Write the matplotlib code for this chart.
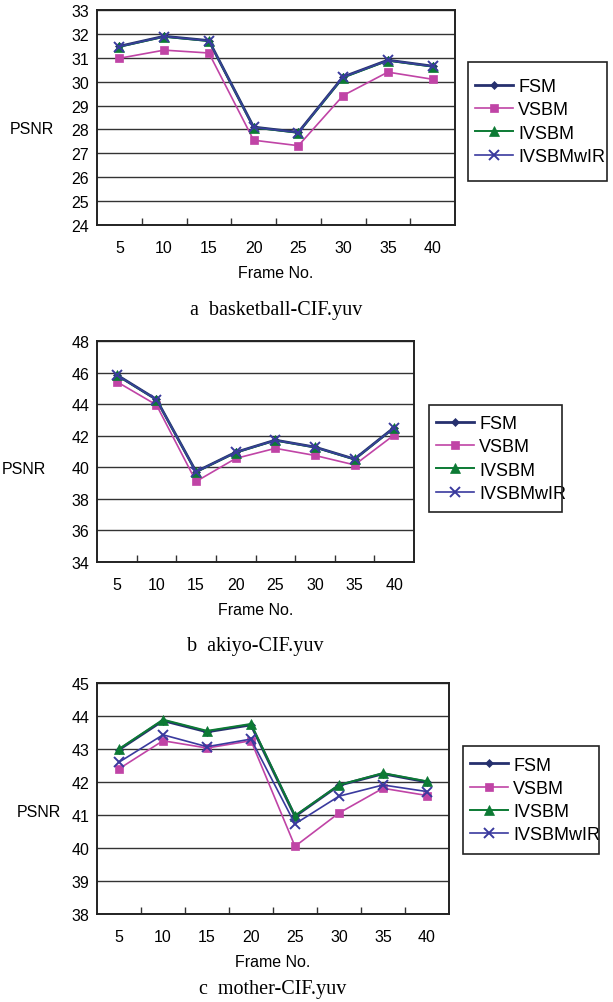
import numpy as np
import matplotlib.pyplot as plt
from matplotlib.patches import Rectangle

plt.rcParams["font.family"] = ["Liberation Sans", "DejaVu Sans"]

frames = [5, 10, 15, 20, 25, 30, 35, 40]
names = ["FSM", "VSBM", "IVSBM", "IVSBMwIR"]

# panel a: basketball
a_fsm = [31.48, 31.9, 31.72, 28.1, 27.88, 30.2, 30.9, 30.65]
a_vsbm = [30.98, 31.32, 31.2, 27.55, 27.32, 29.42, 30.4, 30.1]
a_ivsbm = [31.46, 31.88, 31.7, 28.08, 27.86, 30.17, 30.88, 30.63]
a_wir = [31.47, 31.89, 31.71, 28.09, 27.87, 30.19, 30.89, 30.64]

# panel b: akiyo
b_fsm = [45.85, 44.3, 39.72, 40.95, 41.72, 41.28, 40.52, 42.52]
b_vsbm = [45.42, 43.95, 39.1, 40.56, 41.2, 40.75, 40.15, 42.05]
b_ivsbm = [45.83, 44.28, 39.7, 40.93, 41.7, 41.26, 40.5, 42.5]
b_wir = [45.84, 44.29, 39.71, 40.94, 41.71, 41.27, 40.51, 42.51]

# panel c: mother
c_fsm = [42.98, 43.86, 43.52, 43.73, 40.96, 41.9, 42.25, 42.0]
c_vsbm = [42.4, 43.25, 43.03, 43.25, 40.05, 41.06, 41.81, 41.59]
c_ivsbm = [43.0, 43.89, 43.55, 43.76, 40.98, 41.91, 42.27, 42.02]
c_wir = [42.6, 43.43, 43.07, 43.3, 40.73, 41.57, 41.91, 41.71]

colors = ["#26306e", "#c044a6", "#0c7a34", "#3a3a9e"]
markers = ["D", "s", "^", "x"]
msizes = [4.5, 5.5, 6.5, 6.5]
lwidths = [2.0, 1.2, 1.4, 1.2]

W, H = 613, 1003
fig = plt.figure(figsize=(W / 100, H / 100), dpi=100)


def px_axes(x0, y0, x1, y1):
    return fig.add_axes([x0 / W, 1 - y1 / H, (x1 - x0) / W, (y1 - y0) / H])


panels = [
    dict(box=(97, 11, 455, 226), data=[a_fsm, a_vsbm, a_ivsbm, a_wir],
         ylim=(24, 33), step=1, leg=(468, 63, 607, 182),
         ylab=(32, 130), cap="a  basketball-CIF.yuv", capy=310),
    dict(box=(97, 342, 414, 563), data=[b_fsm, b_vsbm, b_ivsbm, b_wir],
         ylim=(34, 48), step=2, leg=(429, 406, 562, 513),
         ylab=(24, 470), cap="b  akiyo-CIF.yuv", capy=647),
    dict(box=(97, 684, 449, 915), data=[c_fsm, c_vsbm, c_ivsbm, c_wir],
         ylim=(38, 45), step=1, leg=(463, 747, 599, 855),
         ylab=(39, 813), cap="c  mother-CIF.yuv", capy=990),
]

xs = np.arange(len(frames))
for p in panels:
    x0, y0, x1, y1 = p["box"]
    ax = px_axes(x0, y0, x1, y1)
    for vals, nm, c, m, ms, lw in zip(p["data"], names, colors, markers, msizes, lwidths):
        ax.plot(xs, vals, color=c, marker=m, markersize=ms, linewidth=lw,
                markeredgewidth=1.4 if m == "x" else 0.5, label=nm)
    lo, hi = p["ylim"]
    ax.set_ylim(lo, hi)
    ax.set_xlim(-0.5, len(frames) - 0.5)
    ax.set_yticks(np.arange(lo, hi + 0.1, p["step"]))
    ax.yaxis.grid(True, color="#333333", linewidth=1.0)
    ax.set_axisbelow(True)
    ax.tick_params(axis="y", length=0, labelsize=11.5, pad=5.5)
    ax.set_xticks(xs)
    ax.set_xticklabels([str(f) for f in frames])
    ax.set_xticks(xs[:-1] + 0.5, minor=True)
    ax.tick_params(axis="x", which="major", length=0, labelsize=11.5, pad=11)
    ax.tick_params(axis="x", which="minor", direction="in", length=5, width=1, color="#333333")
    for s in ax.spines.values():
        s.set_linewidth(1.4)
        s.set_color("#222222")
    ax.set_xlabel("Frame No.", fontsize=11.5, labelpad=7)
    lx, ly = p["ylab"]
    fig.text(lx / W, 1 - ly / H, "PSNR", fontsize=11.5, ha="center", va="center")

    # legend: frame drawn separately so the padding can differ per side
    lx0, ly0, lx1, ly1 = p["leg"]
    fig.patches.append(Rectangle((lx0 / W, 1 - ly1 / H), (lx1 - lx0) / W, (ly1 - ly0) / H,
                                 transform=fig.transFigure, fill=False,
                                 edgecolor="#222222", linewidth=1.2))
    ax.legend(loc="center left", bbox_to_anchor=((lx0 + 7) / W, 1 - (ly0 + ly1) / 2 / H),
              bbox_transform=fig.transFigure, fontsize=13, frameon=False,
              handlelength=2.1, handletextpad=0.3, labelspacing=0.35,
              borderpad=0, borderaxespad=0)
    fig.text((x0 + x1) / 2 / W, 1 - p["capy"] / H, p["cap"], fontsize=14.5,
             family="Liberation Serif", ha="center", va="center")

fig.savefig("out.png", dpi=100)
